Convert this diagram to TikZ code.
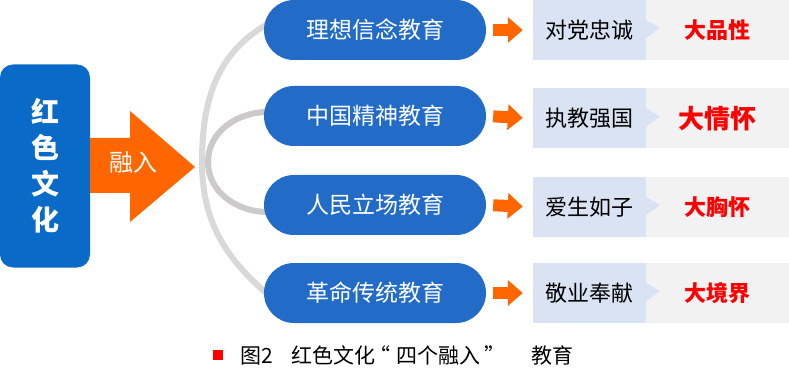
\documentclass[tikz,border=0pt]{standalone}
\usepackage{fontspec}
\setmainfont{Noto Sans CJK SC}
\usetikzlibrary{arrows.meta,shapes.misc,backgrounds}

\definecolor{culblue}{RGB}{10,106,200}
\definecolor{pillblue}{RGB}{34,108,200}
\definecolor{arrorange}{RGB}{255,102,0}
\definecolor{arcgray}{RGB}{217,217,217}
\definecolor{arcdark}{RGB}{205,202,202}
\definecolor{boxblue}{RGB}{218,227,243}
\definecolor{boxgray}{RGB}{242,242,242}

\newcommand\lquo{\makebox[1em][l]{\hspace{-6pt}“}}
\newcommand\rquo{\makebox[1em][l]{\hspace{4pt}”}}

\tikzset{
  pill/.style={rounded rectangle,fill=pillblue,text=white,inner sep=0pt,
    minimum width=222pt,minimum height=60pt,font=\fontsize{23}{25}\selectfont},
  duty/.style={fill=boxblue,inner sep=0pt,minimum width=113pt,
    minimum height=60pt,font=\fontsize{22}{24}\selectfont},
  virtue/.style={fill=boxgray,text=red,inner sep=0pt,minimum width=143pt,
    minimum height=60pt,font=\fontsize{22}{24}\selectfont\bfseries},
  smallarr/.style={arrorange,line width=12pt,
    -{Triangle[length=15pt,width=25pt]},shorten <=7pt,shorten >=10pt},
  arc/.style={line width=6pt}
}

\begin{document}
\begin{tikzpicture}[x=1pt,y=-1pt]
  \useasboundingbox (0,0) rectangle (789,379);

  \node[fill=culblue,rounded corners=13pt,minimum width=90pt,minimum height=203pt,
    text=white,align=center,inner sep=0pt,
    font=\fontsize{28}{36}\selectfont\bfseries] (red) at (45,166)
    {红\\色\\文\\化};

  \fill[arrorange] (90,138) -- (130,138) -- (130,111) -- (195,167)
    -- (130,222) -- (130,193) -- (90,193) -- cycle;
  \node[text=white,font=\fontsize{24}{26}\selectfont] (merge) at (133,162) {融入};

  \node[pill] (p1) at (375,30) {理想信念教育};
  \node[pill] (p2) at (375,116) {中国精神教育};
  \node[pill] (p3) at (375,205) {人民立场教育};
  \node[pill] (p4) at (375,293) {革命传统教育};

  \begin{scope}[on background layer]
    \coordinate (left) at (202,162);
    \coordinate (inleft) at (208,162);
    \draw[arc,arcgray] ([shift={(6pt,7pt)}]p1.west) to[out=208,in=90] (left)
      to[out=-90,in=140] ([shift={(6pt,-3pt)}]p4.west);
    \draw[arc,arcdark] ([shift={(4pt,4pt)}]p2.west) to[out=180,in=90] (inleft)
      to[out=-90,in=180] ([shift={(4pt,-7pt)}]p3.west);
  \end{scope}

  \node[duty] (d1) at (589.5,30) {对党忠诚};
  \node[duty] (d2) at (589.5,118.5) {执教强国};
  \node[duty] (d3) at (589.5,207) {爱生如子};
  \node[duty] (d4) at (589.5,293) {敬业奉献};

  \node[virtue] (v1) at (717.5,30) {大品性};
  \node[virtue,font=\fontsize{26}{28}\selectfont\bfseries] (v2) at (717.5,118.5) {大情怀};
  \node[virtue] (v3) at (717.5,207) {大胸怀};
  \node[virtue] (v4) at (717.5,293) {大境界};

  \foreach \i in {1,...,4}{
    \fill[boxblue] ([yshift=10pt]d\i.east) -- ([xshift=14pt,yshift=2pt]d\i.east)
      -- ([yshift=-8pt]d\i.east) -- cycle;
    \draw[smallarr] (p\i.east) -- (d\i.west);
  }

  \fill[red] (213,350) rectangle (223,360);
  \node[anchor=west,inner sep=0pt,font=\fontsize{21}{23}\selectfont] (cap) at (240,355)
    {图2\hspace{0.9em}红色文化\lquo 四个融入\rquo\hspace{1.4em}教育};
\end{tikzpicture}
\end{document}
